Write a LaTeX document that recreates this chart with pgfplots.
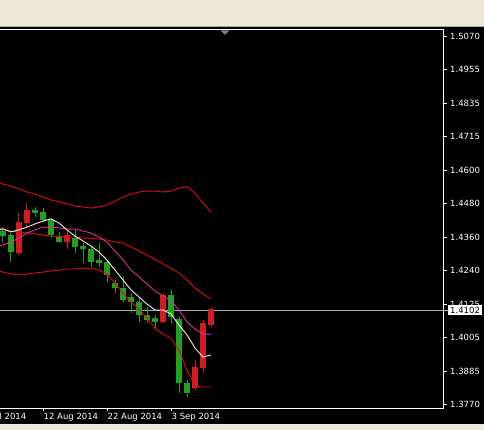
\documentclass[border=0pt]{standalone}
\usepackage{pgfplots}
\usepackage{pgfplotstable}
\usepackage{fontspec}
\setmainfont{DejaVu Sans}
\pgfplotsset{compat=1.18}

\definecolor{beige}{RGB}{236,233,216}
\definecolor{beigeline}{RGB}{172,168,153}
\definecolor{cgreen}{RGB}{38,155,38}
\definecolor{cred}{RGB}{200,30,40}
\definecolor{bband}{RGB}{225,10,20}
\definecolor{pinkma}{RGB}{220,50,150}
\definecolor{whitema}{RGB}{245,235,225}
\definecolor{pricel}{RGB}{170,172,190}

% bearish candles (drawn green)
\pgfplotstableread{
i o h l c
0 1.4382 1.4396 1.4343 1.4364
1 1.4368 1.4375 1.4272 1.4308
4 1.4456 1.4466 1.4431 1.4445
5 1.4449 1.4463 1.4413 1.4420
6 1.4420 1.4428 1.4357 1.4368
7 1.4360 1.4378 1.4339 1.4343
9 1.4357 1.4385 1.4304 1.4325
10 1.4329 1.4339 1.4269 1.4318
11 1.4318 1.4325 1.4255 1.4272
12 1.4279 1.4339 1.4255 1.4269
13 1.4272 1.4279 1.4202 1.4226
14 1.4198 1.4209 1.4163 1.4180
15 1.4180 1.4219 1.4131 1.4138
16 1.4149 1.4163 1.4092 1.4131
17 1.4131 1.4149 1.4060 1.4085
18 1.4085 1.4113 1.4057 1.4068
19 1.4075 1.4085 1.4039 1.4060
21 1.4156 1.4173 1.4052 1.4078
22 1.4071 1.4078 1.3810 1.3845
23 1.3845 1.3856 1.3796 1.3810
}\bear

% bullish candles (drawn red)
\pgfplotstableread{
i o h l c
2 1.4304 1.4445 1.4297 1.4413
3 1.4410 1.4481 1.4396 1.4456
8 1.4343 1.4382 1.4318 1.4368
20 1.4060 1.4163 1.4057 1.4156
24 1.3827 1.3926 1.3820 1.3902
25 1.3898 1.4068 1.3880 1.4057
26 1.4050 1.4110 1.4043 1.4106
}\bull

% indicators
\pgfplotstableread{
i up mid lo pink white
-1 1.4558 1.4392 1.4243 1.4325 1.4385
0 1.4547 1.4388 1.4236 1.4332 1.4388
1 1.4540 1.4381 1.4229 1.4342 1.4378
2 1.4530 1.4378 1.4226 1.4356 1.4385
3 1.4519 1.4374 1.4229 1.4374 1.4395
4 1.4512 1.4371 1.4233 1.4385 1.4406
5 1.4501 1.4367 1.4236 1.4395 1.4416
6 1.4491 1.4363 1.4240 1.4395 1.4424
7 1.4484 1.4363 1.4243 1.4392 1.4409
8 1.4477 1.4360 1.4247 1.4388 1.4385
9 1.4469 1.4360 1.4247 1.4388 1.4363
10 1.4466 1.4356 1.4250 1.4381 1.4346
11 1.4462 1.4356 1.4250 1.4374 1.4328
12 1.4466 1.4353 1.4243 1.4360 1.4307
13 1.4473 1.4349 1.4229 1.4342 1.4279
14 1.4487 1.4342 1.4197 1.4310 1.4243
15 1.4501 1.4339 1.4162 1.4279 1.4208
16 1.4512 1.4325 1.4130 1.4243 1.4173
17 1.4519 1.4310 1.4106 1.4219 1.4148
18 1.4522 1.4296 1.4074 1.4194 1.4123
19 1.4522 1.4282 1.4038 1.4169 1.4102
20 1.4519 1.4265 1.4017 1.4152 1.4102
21 1.4522 1.4250 1.4003 1.4134 1.4088
22 1.4533 1.4233 1.3961 1.4102 1.4049
23 1.4537 1.4208 1.3890 1.4060 1.4014
24 1.4515 1.4180 1.3834 1.4035 1.3968
25 1.4480 1.4159 1.3830 1.4017 1.3936
26 1.4448 1.4141 1.3830 1.4017 1.3943
}\ind

\begin{document}
\begin{tikzpicture}
\useasboundingbox (0pt,0pt) rectangle (484pt,430pt);
\clip (0pt,0pt) rectangle (484pt,430pt);
\fill[beige] (0pt,0pt) rectangle (484pt,430pt);
\fill[black] (0pt,6pt) rectangle (484pt,403pt);
\draw[beigeline, line width=1pt] (0pt,403.5pt) -- (484pt,403.5pt);
\begin{axis}[
  at={(-1pt,22pt)}, anchor=south west,
  scale only axis, width=444pt, height=379pt,
  xmin=-0.5, xmax=55, ymin=1.37559, ymax=1.50947,
  axis background/.style={fill=black},
  axis line style={white, line width=0.8pt},
  xtick={5,13,21},
  xticklabels={12 Aug 2014, 22 Aug 2014, 3 Sep 2014},
  ytick={1.50700,1.49517,1.48333,1.47150,1.45966,1.44783,1.43600,1.42416,1.41233,1.40049,1.38866,1.37682},
  yticklabels={1.5070,1.4955,1.4835,1.4715,1.4600,1.4480,1.4360,1.4240,1.4125,1.4005,1.3885,1.3770},
  xtick pos=left, ytick pos=right, yticklabel pos=right,
  tick align=outside, major tick length=3.5pt,
  tick style={white, line width=0.7pt},
  /pgf/number format/assume math mode=true,
  ticklabel style={font=\fontsize{8.5}{10}\selectfont, text=white},
  xticklabel style={anchor=north west, inner xsep=0.5pt, inner ysep=1.5pt},
  yticklabel style={inner xsep=2pt, xshift=1.5pt},
  clip=true,
]
% current price line
\addplot[pricel, line width=0.7pt, forget plot] coordinates {(-0.5,1.4102) (55,1.4102)};
% wicks
\addplot[draw=none, mark=none, forget plot, error bars/.cd, y dir=plus, y explicit, error mark=none,
  error bar style={draw=cgreen, line width=1pt}]
  table[x=i, y=l, y error plus expr={\thisrow{h}-\thisrow{l}}] {\bear};
\addplot[draw=none, mark=none, forget plot, error bars/.cd, y dir=plus, y explicit, error mark=none,
  error bar style={draw=cred, line width=1pt}]
  table[x=i, y=l, y error plus expr={\thisrow{h}-\thisrow{l}}] {\bull};
% bodies
\addplot[draw=none, mark=none, forget plot, error bars/.cd, y dir=plus, y explicit, error mark=none,
  error bar style={draw=cgreen, line width=5.2pt}]
  table[x=i, y=c, y error plus expr={\thisrow{o}-\thisrow{c}}] {\bear};
\addplot[draw=none, mark=none, forget plot, error bars/.cd, y dir=plus, y explicit, error mark=none,
  error bar style={draw=cred, line width=5.2pt}]
  table[x=i, y=o, y error plus expr={\thisrow{c}-\thisrow{o}}] {\bull};
% indicators
\addplot[bband, line width=0.9pt] table[x=i, y=up] {\ind};
\addplot[bband, line width=0.9pt] table[x=i, y=mid] {\ind};
\addplot[bband, line width=0.9pt] table[x=i, y=lo] {\ind};
\addplot[pinkma, line width=0.9pt] table[x=i, y=pink] {\ind};
\addplot[whitema, line width=0.9pt] table[x=i, y=white] {\ind};
\coordinate (jul) at (axis cs:-3,1.37559);
\coordinate (cp) at (axis cs:55,1.4102);
\end{axis}
\node[anchor=north west, text=white, font=\fontsize{8.5}{10}\selectfont, inner xsep=0.5pt, inner ysep=1.5pt] at ([xshift=-1.5pt,yshift=-3.5pt]jul) {31 Jul 2014};
\draw[pricel, line width=0.7pt] (cp) -- ++(6pt,0);
\node[anchor=west, fill=white, text=black, font=\fontsize{8.5}{10}\selectfont, inner xsep=2pt, inner ysep=1.5pt] at ([xshift=5pt]cp) {1.4102};
\fill[gray] (220.5pt,399.5pt) -- (229.5pt,399.5pt) -- (225pt,395pt) -- cycle;
\end{tikzpicture}
\end{document}
